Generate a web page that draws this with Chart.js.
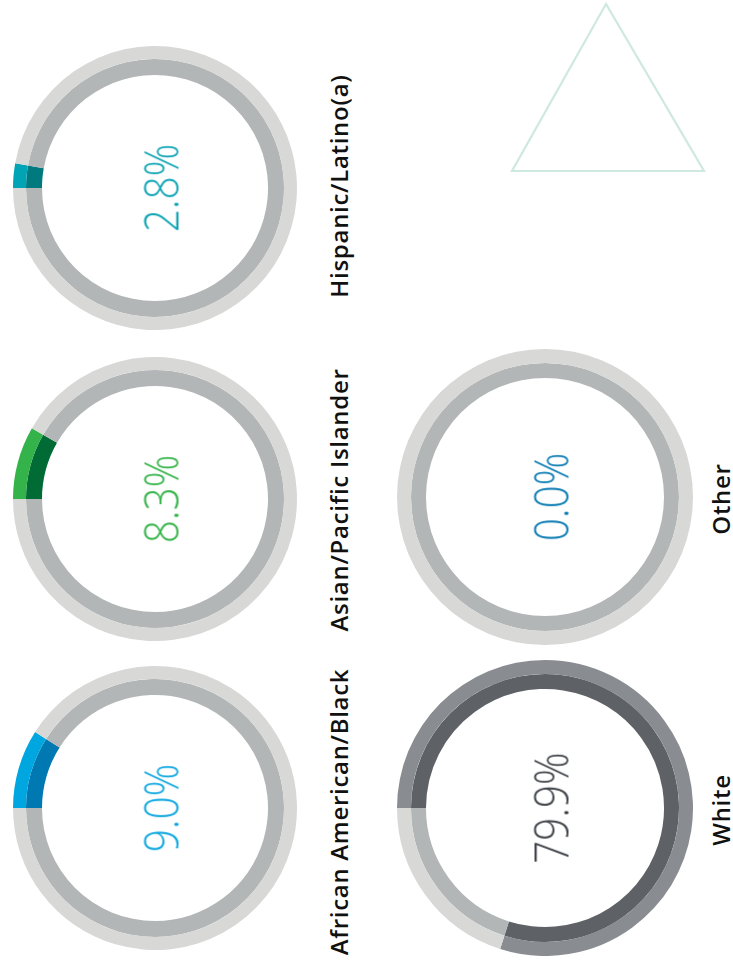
<!DOCTYPE html>
<html>
<head>
<meta charset="utf-8">
<script src="https://cdn.jsdelivr.net/npm/chart.js@4"></script>
<style>
  html, body { margin: 0; padding: 0; background: #ffffff; }
  #stage { position: relative; width: 733px; height: 968px; overflow: hidden; background: #ffffff; }
  .ring { position: absolute; }
  .ring canvas { display: block; }
  .pct, .cat { position: absolute; white-space: nowrap; line-height: 1; }
  .pct {
    font-family: "Open Sans", "Noto Sans", sans-serif; font-weight: 300; font-size: 47px;
    transform: translate(-50%, -50%) rotate(-90deg) scaleX(0.86);
  }
  .cat {
    font-family: "Open Sans", "Noto Sans", sans-serif; font-weight: 600; font-size: 24px;
    letter-spacing: 0.7px; color: #111111;
    transform: translate(-50%, -50%) rotate(-90deg);
  }
  svg.deco { position: absolute; left: 0; top: 0; }
</style>
</head>
<body>
<div id="stage">
  <svg class="deco" width="733" height="968">
    <polygon points="606,4 512,171 704,171" fill="none" stroke="#cfe9df" stroke-width="2.2"/>
  </svg>
</div>
<script>
// Share of each group
const categories = ['African American/Black', 'Asian/Pacific Islander', 'Hispanic/Latino(a)', 'White', 'Other'];
const percentages = [9.0, 8.3, 2.8, 79.9, 0.0];

// Ring colours: outer band, inner band, and the figure in the middle
const outerColors = ['#00a6e0', '#34b34a', '#00a4b5', '#898c90', '#0a7db3'];
const innerColors = ['#0079b3', '#006b35', '#00797f', '#5e6267', '#005f8f'];
const textColors  = ['#0ea7e0', '#36b44a', '#10a5b5', '#3f4348', '#0b7cb2'];
const trackOuter = '#d8d8d7';
const trackInner = '#b3b6b7';

// Placement of each ring on the sideways page
const layout = [
  { cx: 155, cy: 808, r: 142, wOut: 13, wIn: 16, labelX: 339, labelY: 812 },
  { cx: 155, cy: 499, r: 142, wOut: 13, wIn: 16, labelX: 339, labelY: 500 },
  { cx: 155, cy: 188, r: 142, wOut: 13, wIn: 16, labelX: 339, labelY: 186 },
  { cx: 545, cy: 808, r: 148, wOut: 14, wIn: 15, labelX: 721, labelY: 810 },
  { cx: 545, cy: 497, r: 148, wOut: 14, wIn: 15, labelX: 721, labelY: 499 }
];

const stage = document.getElementById('stage');

categories.forEach((name, i) => {
  const L = layout[i];
  const value = percentages[i];
  const rest = 100 - value;

  const wrap = document.createElement('div');
  wrap.className = 'ring';
  wrap.style.left = (L.cx - L.r) + 'px';
  wrap.style.top = (L.cy - L.r) + 'px';
  const canvas = document.createElement('canvas');
  canvas.width = 2 * L.r;
  canvas.height = 2 * L.r;
  wrap.appendChild(canvas);
  stage.appendChild(wrap);

  const cutoutPct = ((L.r - L.wOut - L.wIn) / L.r * 100).toFixed(2) + '%';

  new Chart(canvas, {
    type: 'doughnut',
    data: {
      labels: [name, ''],
      datasets: [
        { data: [value, rest], backgroundColor: [outerColors[i], trackOuter], borderWidth: 0, weight: L.wOut },
        { data: [value, rest], backgroundColor: [innerColors[i], trackInner], borderWidth: 0, weight: L.wIn }
      ]
    },
    options: {
      responsive: false,
      animation: false,
      rotation: -90,
      cutout: cutoutPct,
      hoverOffset: 0,
      layout: { padding: 0 },
      events: [],
      plugins: { legend: { display: false }, tooltip: { enabled: false } }
    }
  });

  const pct = document.createElement('div');
  pct.className = 'pct';
  pct.textContent = value.toFixed(1) + '%';
  pct.style.color = textColors[i];
  pct.style.left = (L.cx + 6) + 'px';
  pct.style.top = L.cy + 'px';
  stage.appendChild(pct);

  const cat = document.createElement('div');
  cat.className = 'cat';
  cat.textContent = name;
  cat.style.left = L.labelX + 'px';
  cat.style.top = L.labelY + 'px';
  stage.appendChild(cat);
});
</script>
</body>
</html>
